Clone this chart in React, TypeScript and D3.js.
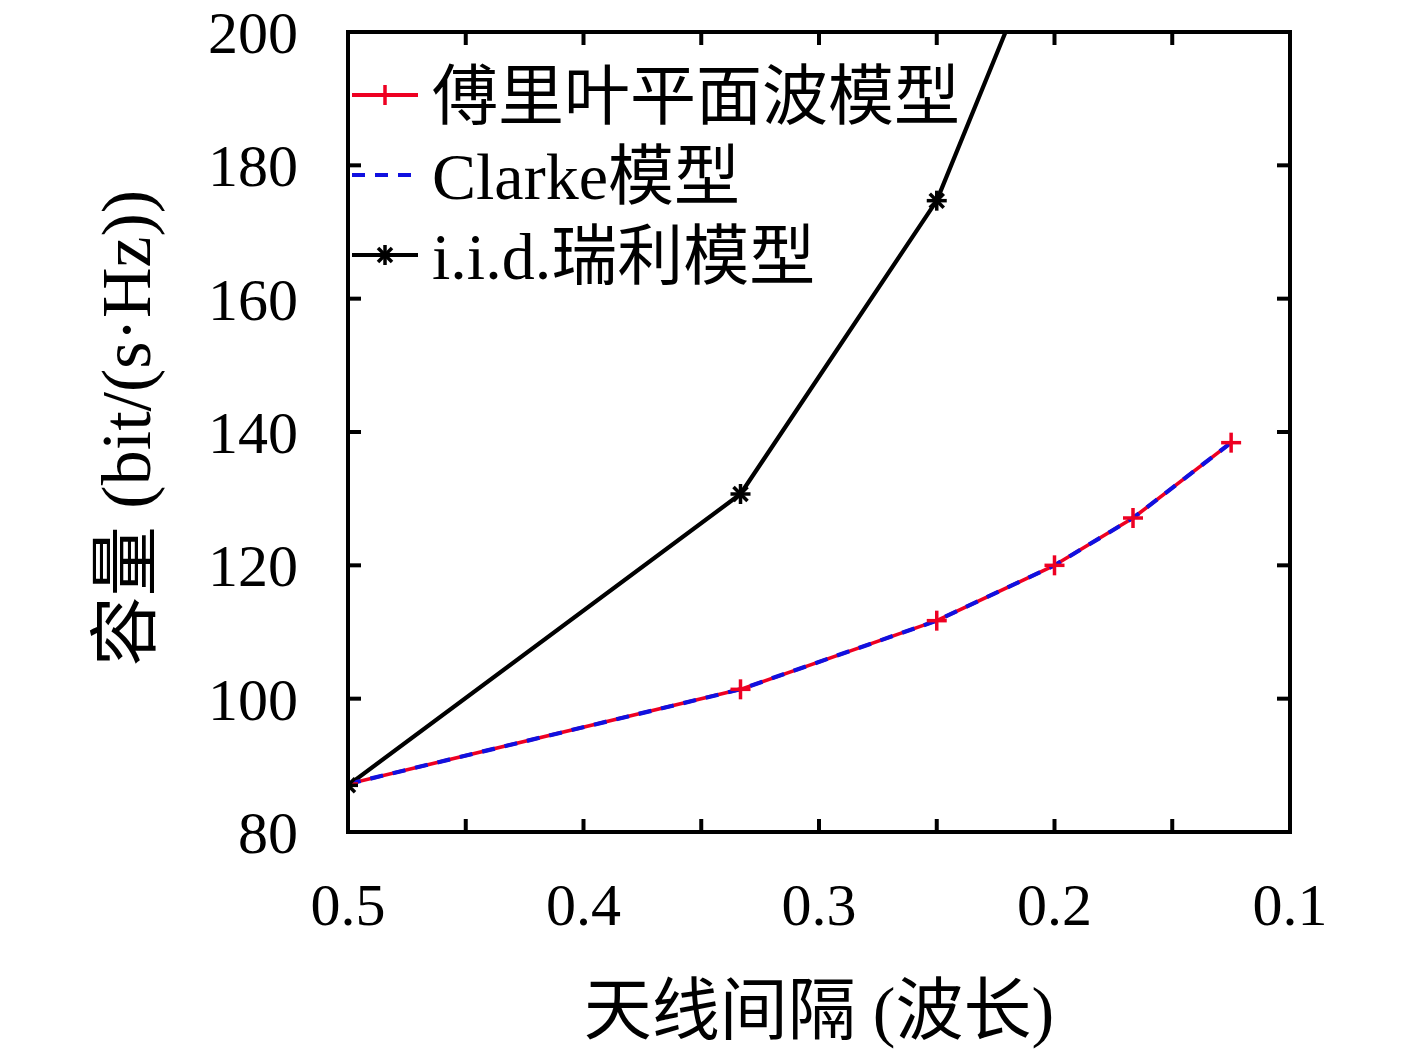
import * as d3 from 'd3';

const spacing = [0.5, 1 / 3, 0.25, 0.2, 1 / 6, 0.125];
const fourierCap = [87.2, 101.4, 111.7, 120.0, 127.1, 138.4];
const clarkeCap = [87.2, 101.4, 111.7, 120.0, 127.1, 138.4];
const iidCap = [87.0, 130.7, 174.7, 218.0, 262.0, 330.0];
const xTickLabels = [0.5, 0.4, 0.3, 0.2, 0.1];
const xTickMarks = [0.45, 0.4, 0.35, 0.3, 0.25, 0.2, 0.15];
const yTickLabels = [80, 100, 120, 140, 160, 180, 200];
const legendNames = ['傅里叶平面波模型', 'Clarke模型', 'i.i.d.瑞利模型'];

const width = 1417;
const height = 1051;
const marginLeft = 348;
const marginRight = 127;
const marginTop = 32;
const marginBottom = 219;
const numFont = '"Liberation Serif", "Noto Sans CJK SC", serif';
const red = '#ee0022';
const blue = '#1010e0';

function Asterisk({ x, y, r = 10 }: { x: number; y: number; r?: number }) {
  const d = r * 0.7;
  return (
    <g stroke='#000' strokeWidth={3.5}>
      <line x1={x} y1={y - r} x2={x} y2={y + r} />
      <line x1={x - r} y1={y} x2={x + r} y2={y} />
      <line x1={x - d} y1={y - d} x2={x + d} y2={y + d} />
      <line x1={x - d} y1={y + d} x2={x + d} y2={y - d} />
    </g>
  );
}

function Plus({ x, y, r = 10, color = red }: { x: number; y: number; r?: number; color?: string }) {
  return (
    <g stroke={color} strokeWidth={3.5}>
      <line x1={x} y1={y - r} x2={x} y2={y + r} />
      <line x1={x - r} y1={y} x2={x + r} y2={y} />
    </g>
  );
}

export default function App() {
  const x = d3.scaleLinear([0.5, 0.1], [marginLeft, width - marginRight]);
  const y = d3.scaleLinear([80, 200], [height - marginBottom, marginTop]);
  const line = d3
    .line<number>()
    .x((_, i) => x(spacing[i]))
    .y((d) => y(d));

  const x0 = marginLeft;
  const x1 = width - marginRight;
  const y0 = height - marginBottom;
  const y1 = marginTop;
  const tick = 13;

  return (
    <svg
      width={width}
      height={height}
      style={{ position: 'absolute', left: 0, top: 0, background: '#fff' }}>
      <defs>
        <clipPath id='plot'>
          <rect x={x0} y={y1} width={x1 - x0} height={y0 - y1} />
        </clipPath>
      </defs>

      <g clipPath='url(#plot)' fill='none' strokeLinejoin='round'>
        <path d={line(iidCap) ?? ''} stroke='#000' strokeWidth={4.2} />
        <path d={line(fourierCap) ?? ''} stroke={red} strokeWidth={3.6} />
        <path d={line(clarkeCap) ?? ''} stroke={blue} strokeWidth={4.2} strokeDasharray='13,10' />
        {fourierCap.map((d, i) => (
          <Plus key={'f' + i} x={x(spacing[i])} y={y(d)} />
        ))}
        {iidCap.map((d, i) => (
          <Asterisk key={'a' + i} x={x(spacing[i])} y={y(d)} />
        ))}
      </g>

      <g stroke='#000' strokeWidth={4}>
        {xTickMarks.map((t) => (
          <g key={'xt' + t}>
            <line x1={x(t)} x2={x(t)} y1={y0} y2={y0 - tick} />
            <line x1={x(t)} x2={x(t)} y1={y1} y2={y1 + tick} />
          </g>
        ))}
        {yTickLabels.slice(1, -1).map((t) => (
          <g key={'yt' + t}>
            <line x1={x0} x2={x0 + tick} y1={y(t)} y2={y(t)} />
            <line x1={x1} x2={x1 - tick} y1={y(t)} y2={y(t)} />
          </g>
        ))}
        <rect x={x0} y={y1} width={x1 - x0} height={y0 - y1} fill='none' />
      </g>

      <g fontFamily={numFont} fontSize={60} fill='#000'>
        {xTickLabels.map((t) => (
          <text key={'xl' + t} x={x(t)} y={y0 + 93} textAnchor='middle'>
            {t.toFixed(1)}
          </text>
        ))}
        {yTickLabels.map((t) => (
          <text key={'yl' + t} x={x0 - 50} y={y(t)} dy='0.35em' textAnchor='end'>
            {t}
          </text>
        ))}
      </g>

      <text
        fontFamily={numFont}
        fontSize={68}
        textAnchor='middle'
        x={(x0 + x1) / 2}
        y={1034}>
        天线间隔 (波长)
      </text>
      <text
        fontFamily={numFont}
        fontSize={70}
        textAnchor='middle'
        transform={`translate(150, ${(y0 + y1) / 2 - 4}) rotate(-90)`}>
        容量 (bit/(s·Hz))
      </text>

      <g fontFamily={numFont} fontSize={66}>
        {legendNames.map((name, i) => {
          const ly = 95 + i * 80;
          return (
            <g key={name}>
              {i === 0 && (
                <>
                  <line x1={352} x2={418} y1={ly} y2={ly} stroke={red} strokeWidth={4} />
                  <Plus x={385} y={ly} />
                </>
              )}
              {i === 1 && (
                <line
                  x1={352}
                  x2={418}
                  y1={ly}
                  y2={ly}
                  stroke={blue}
                  strokeWidth={4}
                  strokeDasharray='13,10'
                />
              )}
              {i === 2 && (
                <>
                  <line x1={352} x2={418} y1={ly} y2={ly} stroke='#000' strokeWidth={4} />
                  <Asterisk x={385} y={ly} />
                </>
              )}
              <text x={432} y={ly} dy='0.36em'>
                {name}
              </text>
            </g>
          );
        })}
      </g>
    </svg>
  );
}
